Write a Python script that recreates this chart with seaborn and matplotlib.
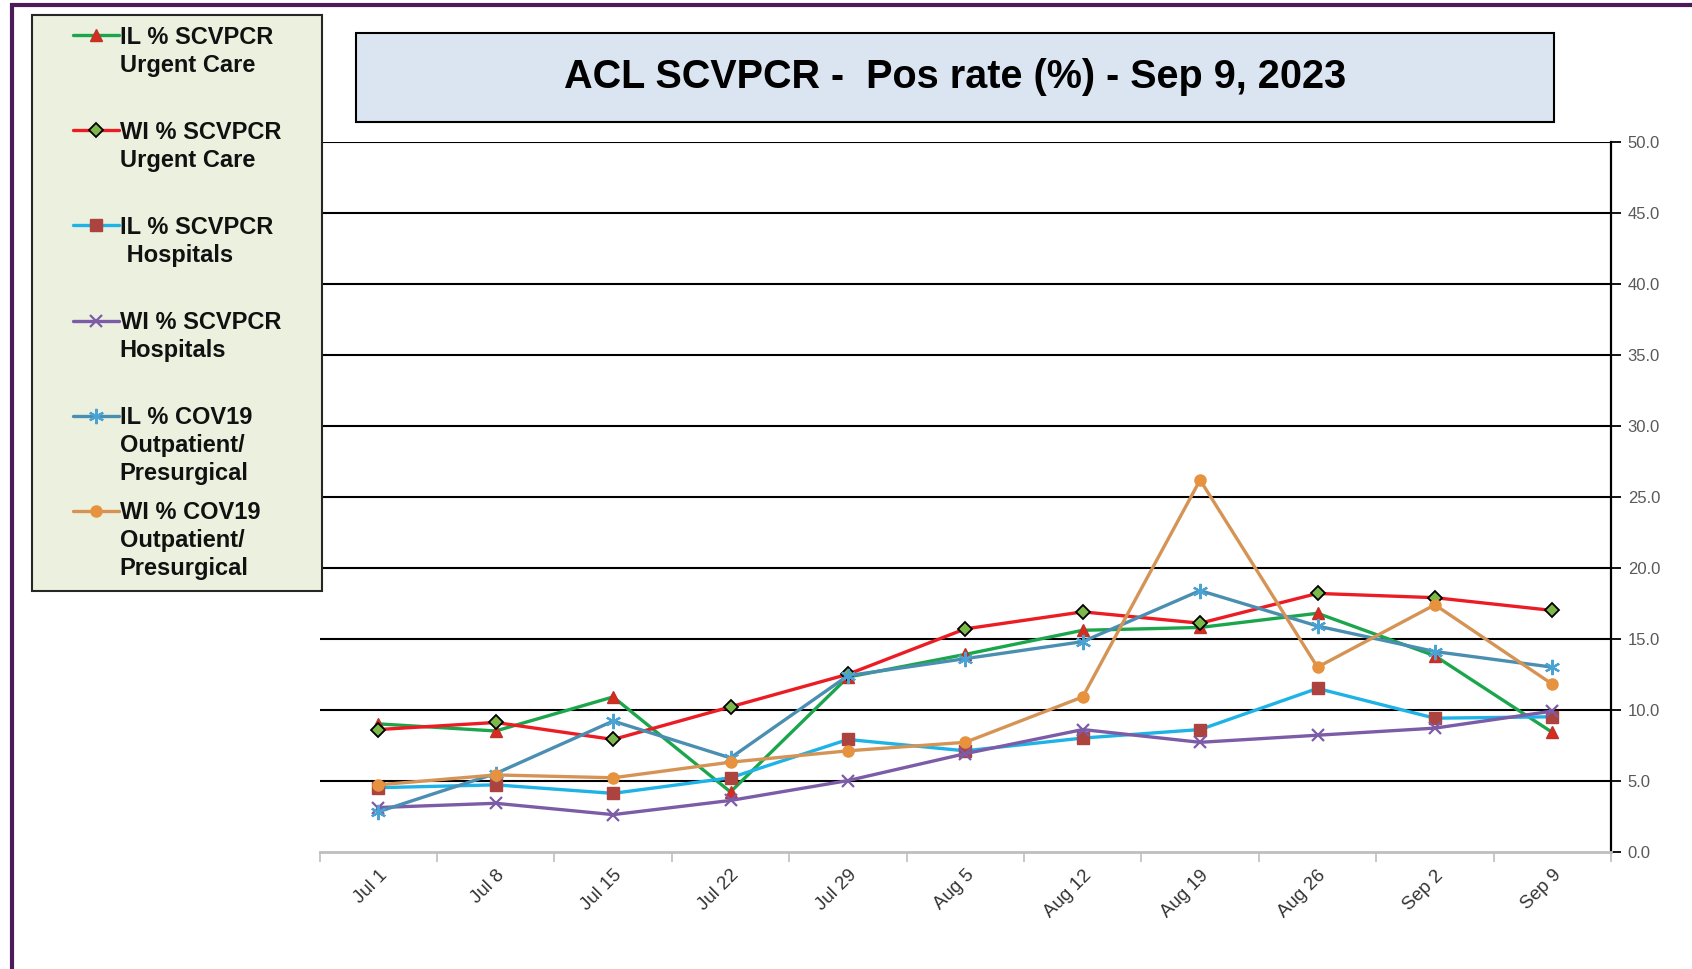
import numpy as np
import pandas as pd
import seaborn as sns
import matplotlib.pyplot as plt
from matplotlib.lines import Line2D
from matplotlib.patches import Rectangle
from matplotlib.legend_handler import HandlerLine2D

# weekly positivity rates (%)
weeks = ["Jul 1", "Jul 8", "Jul 15", "Jul 22", "Jul 29", "Aug 5",
         "Aug 12", "Aug 19", "Aug 26", "Sep 2", "Sep 9"]

il_uc = [9.0, 8.5, 10.9, 4.2, 12.3, 13.9, 15.6, 15.8, 16.8, 13.8, 8.4]
wi_uc = [8.6, 9.1, 7.9, 10.2, 12.5, 15.7, 16.9, 16.1, 18.2, 17.9, 17.0]
il_hosp = [4.5, 4.7, 4.1, 5.2, 7.9, 7.1, 8.0, 8.6, 11.5, 9.4, 9.5]
wi_hosp = [3.1, 3.4, 2.6, 3.6, 5.0, 6.9, 8.6, 7.7, 8.2, 8.7, 9.9]
il_cov = [2.8, 5.5, 9.2, 6.6, 12.4, 13.6, 14.8, 18.4, 15.9, 14.1, 13.0]
wi_cov = [4.7, 5.4, 5.2, 6.3, 7.1, 7.7, 10.9, 26.2, 13.0, 17.4, 11.8]

labels = ["IL % SCVPCR\nUrgent Care\n",
          "WI % SCVPCR\nUrgent Care\n",
          "IL % SCVPCR\n Hospitals\n",
          "WI % SCVPCR\nHospitals\n",
          "IL % COV19\nOutpatient/\nPresurgical",
          "WI % COV19\nOutpatient/\nPresurgical"]

title = "ACL SCVPCR -  Pos rate (%) - Sep 9, 2023"

sns.set_theme(style="white")
plt.rcParams["font.family"] = ["Liberation Sans", "DejaVu Sans"]

W, H = 1692, 969
fig = plt.figure(figsize=(W / 100, H / 100), dpi=100)


def fx(px):
    return px / W


def fy(py):
    return 1 - py / H


ax = fig.add_axes([fx(319.6), fy(851.5), (1611 - 319.6) / W, (851.5 - 142.5) / H])

# estilos das séries (linha / marcador), como no Excel
styles = [
    dict(color="#1ba64c", marker="^", markersize=8, markerfacecolor="#d92b1f",
         markeredgecolor="#b8352a", markeredgewidth=1),
    dict(color="#ec1c24", marker="D", markersize=7, markerfacecolor="#7cb84a",
         markeredgecolor="black", markeredgewidth=1.3),
    dict(color="#1eb3e6", marker="s", markersize=8, markerfacecolor="#ad433f",
         markeredgecolor="#ad433f", markeredgewidth=1),
    dict(color="#7c5ca6", marker="x", markersize=8, markerfacecolor="#7c5ca6",
         markeredgecolor="#7c5ca6", markeredgewidth=1.6),
    dict(color="#4a8fb2", marker=(6, 2, 0), markersize=11, markerfacecolor="#4aa3d3",
         markeredgecolor="#4aa3d3", markeredgewidth=1.6),
    dict(color="#d59455", marker="o", markersize=8, markerfacecolor="#e6923f",
         markeredgecolor="#e6923f", markeredgewidth=1),
]
series = [il_uc, wi_uc, il_hosp, wi_hosp, il_cov, wi_cov]

handles = []
for vals, st in zip(series, styles):
    sns.lineplot(x=weeks, y=vals, ax=ax, sort=False, linewidth=2.4, legend=False, **st)
    handles.append(ax.lines[-1])

ax.set_xlim(-0.5, 10.5)
ax.set_ylim(0, 50)
ax.set_xlabel("")
ax.set_ylabel("")

# eixo y à direita
ax.yaxis.tick_right()
ax.set_yticks(np.arange(0, 51, 5))
ax.set_yticklabels([f"{v:.1f}" for v in np.arange(0, 51, 5)])
ax.tick_params(axis="y", which="major", right=True, direction="out", length=7, width=1.3,
               color="black", labelsize=12, labelcolor="#595959", pad=5)

ax.set_xticks(range(len(weeks)))
ax.set_xticklabels(weeks, rotation=45, ha="right", rotation_mode="anchor")
ax.set_xticks(np.arange(-0.5, len(weeks), 1), minor=True)
ax.tick_params(axis="x", which="major", bottom=True, length=0, labelsize=13.5,
               labelcolor="#333333", pad=11)
ax.tick_params(axis="x", which="minor", bottom=True, direction="out", length=7,
               width=1.2, color="#bfbfbf")

ax.grid(axis="y", color="black", linewidth=1.5)
ax.grid(axis="x", visible=False)
ax.set_axisbelow(True)
ax.yaxis.get_major_ticks()[0].gridline.set_visible(False)

for side in ["left", "top"]:
    ax.spines[side].set_visible(False)
ax.spines["right"].set_color("black")
ax.spines["right"].set_linewidth(1.6)
ax.spines["bottom"].set_color("#bfbfbf")
ax.spines["bottom"].set_linewidth(2)


# legenda: marcador alinhado com a primeira linha do rótulo
class FirstLineHandler(HandlerLine2D):
    def create_artists(self, legend, orig_handle, xdescent, ydescent, width, height,
                       fontsize, trans):
        arts = super().create_artists(legend, orig_handle, xdescent, ydescent, width,
                                      height, fontsize, trans)
        for a in arts:
            a.set_ydata(np.asarray(a.get_ydata()) + 1.3 * fontsize)
        return arts


leg = fig.legend(handles, labels, loc="upper left",
                 bbox_to_anchor=(fx(32), 0, (322 - 32) / W, fy(15)),
                 bbox_transform=fig.transFigure, mode="expand", borderaxespad=0,
                 borderpad=0.45, handlelength=3.22, handletextpad=0.05,
                 labelspacing=0.68, handler_map={Line2D: FirstLineHandler(xpad=1.27)},
                 prop=dict(weight="bold", size=17), frameon=True, fancybox=False,
                 framealpha=1, facecolor="#ebf1de", edgecolor="#262626")
leg.get_frame().set_linewidth(1.5)
for t in leg.get_texts():
    t.set_linespacing(1.28)
    t.set_color("#111111")

# caixa do título
fig.add_artist(Rectangle((fx(356), fy(122)), (1554 - 356) / W, (122 - 33) / H,
                         transform=fig.transFigure, facecolor="#dbe5f1",
                         edgecolor="black", linewidth=1.5))
fig.text(fx(955), fy(77.5), title, ha="center", va="center", fontsize=28.5,
         fontweight="bold", color="black")

# moldura roxa do slide
fig.add_artist(Rectangle((fx(11.5), -0.1), 1.2, fy(5) + 0.1, transform=fig.transFigure,
                         fill=False, edgecolor="#4b1c59", linewidth=3, clip_on=False))

fig.savefig("out.png", dpi=100, facecolor="white")
